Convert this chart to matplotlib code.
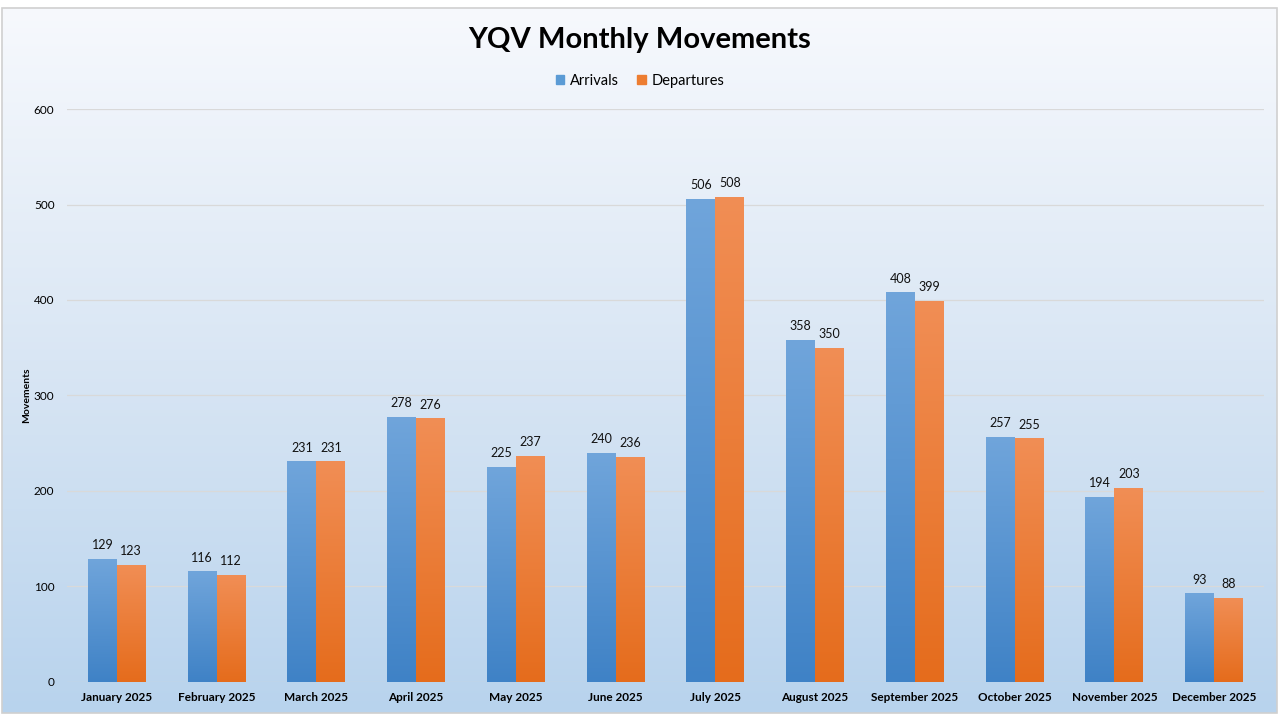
import numpy as np
import matplotlib.pyplot as plt
from matplotlib.patches import Rectangle
from matplotlib.colors import LinearSegmentedColormap

plt.rcParams['font.family'] = ['Lato', 'DejaVu Sans']

months = ['January 2025', 'February 2025', 'March 2025', 'April 2025', 'May 2025',
          'June 2025', 'July 2025', 'August 2025', 'September 2025', 'October 2025',
          'November 2025', 'December 2025']
arrivals = [129, 116, 231, 278, 225, 240, 506, 358, 408, 257, 194, 93]
departures = [123, 112, 231, 276, 237, 236, 508, 350, 399, 255, 203, 88]
yticks = [0, 100, 200, 300, 400, 500, 600]

BLUE_TOP, BLUE_BOT = '#70a5db', '#3f82c6'
ORANGE_TOP, ORANGE_BOT = '#f18e55', '#e56c1c'


def gradient_bars(ax, bars, top, bot):
    cmap = LinearSegmentedColormap.from_list('g', [bot, top])
    grad = np.linspace(0, 1, 256).reshape(-1, 1)
    for b in bars:
        x, y = b.get_x(), b.get_y()
        w, h = b.get_width(), b.get_height()
        b.set_facecolor('none')
        b.set_edgecolor('none')
        im = ax.imshow(grad, extent=[x, x + w, y, y + h], origin='lower', cmap=cmap,
                       aspect='auto', zorder=3, interpolation='bicubic')
        im.set_clip_path(b)


fig = plt.figure(figsize=(12.8, 7.2), dpi=100)

# chart area background with gradient + border
bg = fig.add_axes([0, 0, 1, 1], zorder=-5)
bg.set_axis_off()
bgcmap = LinearSegmentedColormap.from_list('bg', ['#f7f9fd', '#d9e6f4', '#b8d3ed'])
bg.imshow(np.linspace(0, 1, 256).reshape(-1, 1), extent=[2, 1277, 713, 8], cmap=bgcmap,
          aspect='auto', origin='upper')
bg.add_patch(Rectangle((2, 8), 1275, 705, fill=False, edgecolor='#d0d0d0', lw=1.2))
bg.set_xlim(0, 1280)
bg.set_ylim(720, 0)

ax = fig.add_axes([0.0523, 0.0528, 0.9352, 0.7958])
ax.patch.set_alpha(0)
x = np.arange(len(months))
w = 0.29
b1 = ax.bar(x - w / 2, arrivals, w, label='Arrivals', color=BLUE_BOT)
b2 = ax.bar(x + w / 2, departures, w, label='Departures', color=ORANGE_BOT)
gradient_bars(ax, b1, BLUE_TOP, BLUE_BOT)
gradient_bars(ax, b2, ORANGE_TOP, ORANGE_BOT)

for xi, a, d in zip(x, arrivals, departures):
    ax.text(xi - w / 2, a + 8, str(a), ha='center', va='bottom', fontsize=9, color='#111111')
    ax.text(xi + w / 2, d + 8, str(d), ha='center', va='bottom', fontsize=9, color='#111111')

ax.set_xlim(-0.5, len(months) - 0.5)
ax.set_ylim(0, 600)
ax.set_yticks(yticks)
ax.set_xticks(x)
ax.set_xticklabels(months, fontweight='bold', fontsize=8.5)
ax.tick_params(axis='both', length=0, labelsize=8.5, colors='black')
ax.tick_params(axis='y', pad=9)
ax.tick_params(axis='x', pad=7)
ax.grid(axis='y', color='#d9d9d9', lw=0.9, zorder=0)
ax.set_axisbelow(True)
for s in ax.spines.values():
    s.set_visible(False)
ax.set_ylabel('Movements', fontsize=7.5, fontweight='bold', labelpad=2)

fig.text(0.5, 0.945, 'YQV Monthly Movements', ha='center', va='center',
         fontsize=21, fontweight='bold', color='black')

handles = [Rectangle((0, 0), 1, 1, color='#5b9bd5'), Rectangle((0, 0), 1, 1, color='#ed7d31')]
fig.legend(handles, ['Arrivals', 'Departures'], loc='center', bbox_to_anchor=(0.5, 0.888),
           ncol=2, frameon=False, fontsize=10.5, handlelength=0.6, handleheight=0.6,
           handletextpad=0.4, columnspacing=1.2)

fig.savefig('out.png', dpi=100)
